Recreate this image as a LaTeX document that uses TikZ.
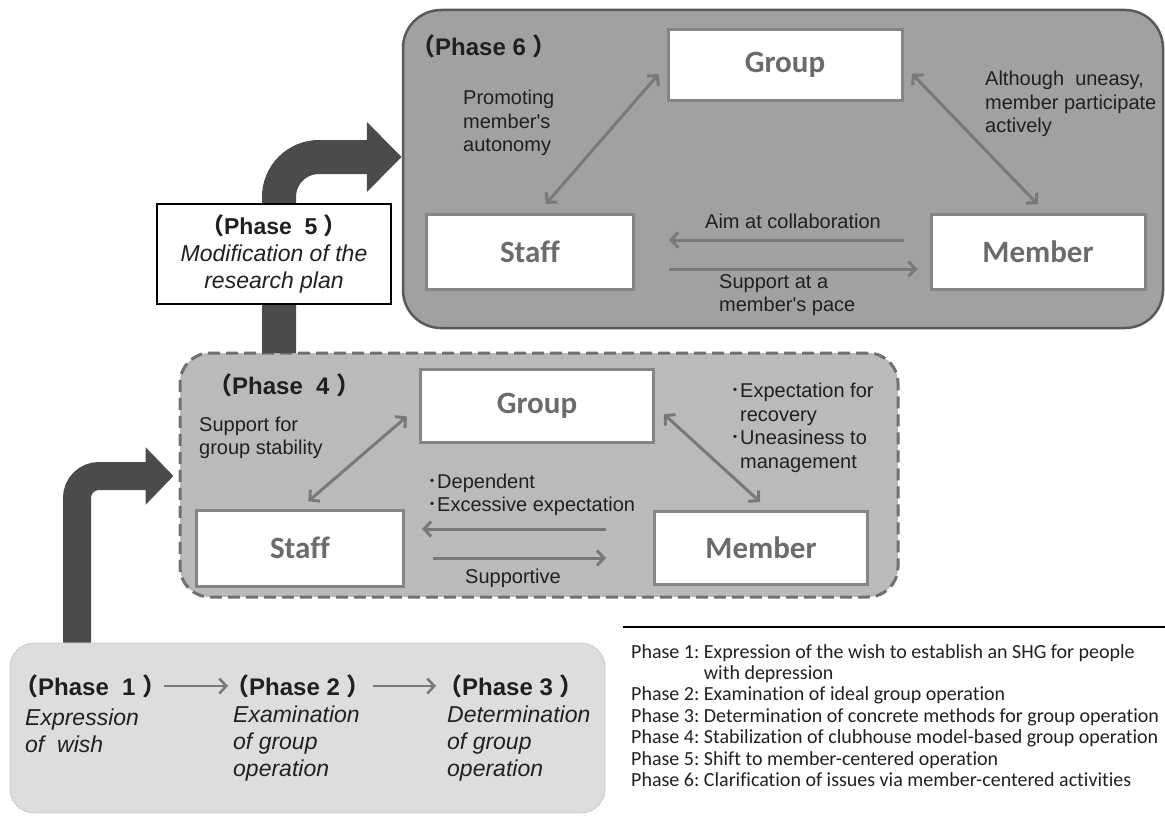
\documentclass[tikz,border=0pt]{standalone}
\usepackage{fontspec}
\setmainfont{Liberation Sans}
\newfontfamily\carlito[Ligatures={NoCommon,NoContextual}]{Carlito}
\newfontfamily\cjk{Noto Sans CJK JP}
\usetikzlibrary{arrows.meta,positioning}

\definecolor{panelSixFill}{HTML}{A0A1A3}
\definecolor{panelSixLine}{HTML}{58595B}
\definecolor{panelFourFill}{HTML}{B9BABC}
\definecolor{panelFourLine}{HTML}{6F7072}
\definecolor{panelOneFill}{HTML}{DCDDDF}
\definecolor{panelOneLine}{HTML}{AEAFB1}
\definecolor{boxLine}{HTML}{848587}
\definecolor{boxInk}{HTML}{6A6B6D}
\definecolor{relGray}{HTML}{78797B}
\definecolor{bigGray}{HTML}{4A4B4D}
\definecolor{noteInk}{HTML}{231F20}

\newcommand{\setfs}[2]{\fontsize{#1}{#2}\selectfont}
\newcommand{\phaseTag}[1]{{\cjk （}Phase#1{\cjk ）}}

\begin{document}
\begin{tikzpicture}[x=1pt, y=-1pt,
    >={Straight Barb[length=7pt,width=15pt]},
    panelSix/.style={draw=panelSixLine, line width=2.5pt, fill=panelSixFill, rounded corners=38pt, inner sep=0pt},
    panelFour/.style={draw=panelFourLine, line width=3pt, dash pattern=on 12pt off 6pt, fill=panelFourFill, rounded corners=30pt, inner sep=0pt},
    panelOne/.style={draw=panelOneLine, line width=0.8pt, dash pattern=on 1pt off 1pt, fill=panelOneFill, rounded corners=24pt, inner sep=0pt},
    roleBox/.style={draw=boxLine, line width=3pt, fill=white, text=boxInk, font=\carlito\bfseries\setfs{31}{36}},
    relArrow/.style={draw=relGray, line width=3pt},
    stepArrow/.style={draw=relGray, line width=2.5pt, ->},
    bigArrow/.style={draw=bigGray},
    noteText/.style={font=\setfs{20}{23.5}, text=noteInk, align=left, inner sep=0pt},
    phaseTitle/.style={font=\bfseries\setfs{24}{28}, text=noteInk, inner sep=0pt},
    descText/.style={font=\itshape\setfs{23}{27}, text=noteInk, align=left, inner sep=0pt},
    legendText/.style={font=\carlito\setfs{20}{21.4}, text=noteInk, inner sep=0pt}]

    \useasboundingbox (0,0) rectangle (1165,816);

    % Panels
    \node[panelOne, minimum width=595pt, minimum height=170pt] (panelOne) at (307.5,728) {};
    \node[panelFour, minimum width=718pt, minimum height=244pt] (panelFour) at (539,475) {};
    \node[panelSix, minimum width=760pt, minimum height=318pt] (panelSix) at (783,169) {};

    % Big arrows
    \coordinate (bendOne) at (77,476);
    \coordinate (bendFive) at (279,157);
    \draw[bigArrow, line width=28pt, rounded corners=22pt, -{Triangle[length=28pt,width=56pt]}, shorten >=5pt]
        (panelOne.north -| bendOne) -- (bendOne) -- (panelFour.west |- bendOne);
    \draw[bigArrow, line width=34pt, rounded corners=40pt, -{Triangle[length=35pt,width=68pt]}]
        ([yshift=-1.5pt]panelFour.north -| bendFive) -- (bendFive) -- (panelSix.west |- bendFive);

    % Phase 5
    \node[draw=black, line width=1.2pt, fill=white, minimum width=234pt, minimum height=100pt,
          align=center, text=noteInk, inner sep=0pt, font=\setfs{23}{27}] (phFive) at (274,254)
        {\textbf{\phaseTag{~~5 }}\\
         \textit{Modification of the}\\
         \textit{research plan}};

    % Phase 6
    \node[phaseTitle, anchor=west] (phSix) at (411,46) {\phaseTag{ 6 }};
    \node[roleBox, minimum width=234pt, minimum height=70pt] (grpSix) at (785,65) {Group};
    \node[roleBox, minimum width=207pt, minimum height=75pt] (staffSix) at (530,252) {Staff};
    \node[roleBox, minimum width=214pt, minimum height=75pt] (memSix) at (1038,252) {Member};

    \draw[relArrow, <->, shorten <=12pt, shorten >=12pt] ([xshift=8pt]staffSix.north) -- (grpSix.west);
    \draw[relArrow, <->, shorten <=12pt, shorten >=12pt] (grpSix.east) -- ([xshift=8pt]memSix.north);
    \draw[relArrow, ->, shorten <=26pt, shorten >=34pt] ([yshift=12pt]memSix.west) -- ([yshift=12pt]staffSix.east);
    \draw[relArrow, ->, shorten <=34pt, shorten >=12pt] ([yshift=-17pt]staffSix.east) -- ([yshift=-17pt]memSix.west);

    \node[noteText, anchor=west] (noteAuton) at (463,123) {Promoting\\member\textquotesingle s\\autonomy};
    \node[noteText, anchor=west] (noteUneasy) at (985,104) {Although\ \ uneasy,\\member participate\\actively};
    \node[noteText] (noteCollab) at (793,221) {Aim at collaboration};
    \node[noteText, anchor=west] (notePace) at (719,295) {Support at a\\member\textquotesingle s pace};

    % Phase 4
    \node[phaseTitle, anchor=west] (phFour) at (208,385) {\phaseTag{~~4 }};
    \node[roleBox, minimum width=233pt, minimum height=73pt] (grpFour) at (537,406) {Group};
    \node[roleBox, minimum width=207pt, minimum height=76pt] (staffFour) at (300,548) {Staff};
    \node[roleBox, minimum width=213pt, minimum height=73pt] (memFour) at (761,548) {Member};

    \draw[relArrow, <->, shorten <=11pt, shorten >=16pt] (staffFour.north) -- (grpFour.west);
    \draw[relArrow, <->, shorten <=12pt, shorten >=12pt] (grpFour.east) -- ([xshift=8pt]memFour.north);
    \draw[relArrow, ->, shorten <=47pt, shorten >=17pt] ([yshift=19pt]memFour.west) -- ([yshift=19pt]staffFour.east);
    \draw[relArrow, ->, shorten <=28pt, shorten >=47pt] ([yshift=-10pt]staffFour.east) -- ([yshift=-10pt]memFour.west);

    \node[noteText, anchor=west] (noteStab) at (199,438) {Support for\\group stability};
    \node[noteText, anchor=west] (noteRecov) at (730,428)
        {{\cjk ･}Expectation for\\\hphantom{\cjk ･}recovery\\{\cjk ･}Uneasiness to\\\hphantom{\cjk ･}management};
    \node[noteText, anchor=west] (noteDepend) at (427,495) {{\cjk ･}Dependent\\{\cjk ･}Excessive expectation};
    \node[noteText] (noteSupp) at (513,578) {Supportive};

    % Phase 1-3
    \node[phaseTitle, anchor=west] (phOne) at (14,686) {\phaseTag{~~1 }};
    \node[phaseTitle, anchor=west] (phTwo) at (225,686) {\phaseTag{ 2 }};
    \node[phaseTitle, anchor=west] (phThree) at (438,686) {\phaseTag{ 3 }};
    \draw[stepArrow, shorten <=-2pt, shorten >=-3pt] (phOne) -- (phTwo);
    \draw[stepArrow, shorten <=2pt, shorten >=2pt] (phTwo) -- (phThree);

    \node[descText, anchor=west] (dOne) at (25,731) {Expression\\of\ \ wish};
    \node[descText, anchor=west] (dTwo) at (233,744) {Examination\\of group\\operation};
    \node[descText, anchor=west] (dThree) at (447,744) {Determination\\of group\\operation};

    % Legend
    \draw[line width=1.5pt] (623,627) -- (1165,627);
    \node[legendText, anchor=north west] (legend) at (631,643) {\begin{tabular}[t]{@{}l@{\ }l@{}}
        Phase 1: & Expression of the wish to establish an SHG for people\\
                 & with depression\\
        Phase 2: & Examination of ideal group operation\\
        Phase 3: & Determination of concrete methods for group operation\\
        Phase 4: & Stabilization of clubhouse model-based group operation\\
        Phase 5: & Shift to member-centered operation\\
        Phase 6: & Clarification of issues via member-centered activities
    \end{tabular}};
\end{tikzpicture}
\end{document}
